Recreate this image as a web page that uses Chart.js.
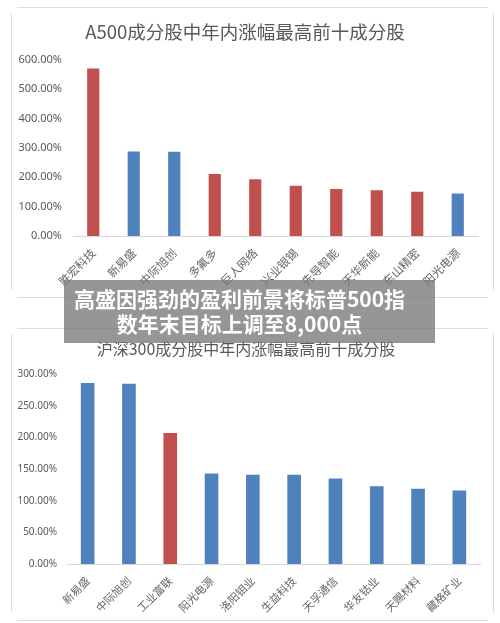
<!DOCTYPE html>
<html>
<head>
<meta charset="utf-8">
<script src="https://cdn.jsdelivr.net/npm/chart.js@4"></script>
<style>
  html, body { margin: 0; padding: 0; background: #fff; }
  body { width: 500px; height: 623px; position: relative; overflow: hidden; }
  .line { position: absolute; background: #dcdcdc; }
  .chart-box { position: absolute; }
  .banner {
    position: absolute; left: 64px; top: 280px; width: 371px; height: 63px;
    background: rgba(120, 120, 120, 0.78);
    color: #fff; font-family: "Noto Sans CJK SC", sans-serif; font-weight: 700;
    font-size: 21px; line-height: 25px; text-align: center;
    box-sizing: border-box; padding: 6px 20px 0 0; white-space: nowrap;
  }
</style>
</head>
<body>
<!-- card edges -->
<div class="line" style="left:17px;top:7px;width:471px;height:1px"></div>
<div class="line" style="left:11px;top:13px;width:1px;height:277px"></div>
<div class="line" style="left:493px;top:13px;width:1px;height:277px"></div>
<div class="line" style="left:17px;top:297px;width:471px;height:1px"></div>
<div class="line" style="left:17px;top:328px;width:471px;height:1px"></div>
<div class="line" style="left:11px;top:334px;width:1px;height:278px"></div>
<div class="line" style="left:493px;top:333px;width:1px;height:280px"></div>
<div class="line" style="left:17px;top:620px;width:471px;height:1px"></div>

<div class="chart-box" style="left:12px;top:13px;width:481px;height:277px">
  <canvas id="a500Chart"></canvas>
</div>
<div class="chart-box" style="left:12px;top:334px;width:481px;height:284px">
  <canvas id="hs300Chart"></canvas>
</div>

<div class="banner">高盛因强劲的盈利前景将标普500指<br>数年末目标上调至8,000点</div>

<script>
// A500 top ten
const a500Names = ['胜宏科技', '新易盛', '中际旭创', '多氟多', '巨人网络', '兴业银锡', '先导智能', '天华新能', '东山精密', '阳光电源'];
const a500Gains = [570, 288, 287, 211, 193, 171, 160, 156, 151, 145];
const a500Ticks = [0, 100, 200, 300, 400, 500, 600];

// CSI 300 top ten
const hs300Names = ['新易盛', '中际旭创', '工业富联', '阳光电源', '洛阳钼业', '生益科技', '天孚通信', '华友钴业', '天赐材料', '藏格矿业'];
const hs300Gains = [286, 285, 207, 143, 141, 141, 135, 123, 119, 116];
const hs300Ticks = [0, 50, 100, 150, 200, 250, 300];

const RED = '#C0504D';
const BLUE = '#4F81BD';
const a500Colors = [RED, BLUE, BLUE, RED, RED, RED, RED, RED, RED, BLUE];
const hs300Colors = [BLUE, BLUE, RED, BLUE, BLUE, BLUE, BLUE, BLUE, BLUE, BLUE];

const textColor = '#595959';

function makeChart(id, title, names, values, ticks, colors, opt) {
  const ctx = document.getElementById(id).getContext('2d');
  return new Chart(ctx, {
    type: 'bar',
    data: {
      labels: names,
      datasets: [{
        data: values,
        backgroundColor: colors,
        barPercentage: opt.bar,
        categoryPercentage: 1
      }]
    },
    options: {
      responsive: true,
      maintainAspectRatio: false,
      animation: false,
      layout: { padding: { left: 0, right: opt.padRight, top: 0, bottom: 0 } },
      plugins: {
        legend: { display: false },
        tooltip: { enabled: false },
        title: {
          display: true,
          text: title,
          color: textColor,
          font: { family: '"Noto Sans CJK SC", sans-serif', size: opt.titleSize, weight: 'normal' },
          padding: { top: opt.titleTop, bottom: opt.titleBottom }
        }
      },
      scales: {
        x: {
          grid: { display: false },
          border: { display: true, color: '#d9d9d9' },
          ticks: {
            color: '#666666',
            maxRotation: 45,
            minRotation: 45,
            autoSkip: false,
            padding: 2,
            font: { family: '"Noto Sans CJK SC", sans-serif', size: opt.xFont }
          },
          afterFit: s => { s.height = opt.xHeight; }
        },
        y: {
          min: ticks[0],
          max: ticks[ticks.length - 1],
          afterBuildTicks: s => { s.ticks = ticks.map(v => ({ value: v })); },
          grid: { display: false, drawTicks: false },
          border: { display: false },
          ticks: {
            color: textColor,
            padding: opt.yPad,
            font: { family: '"Noto Sans", sans-serif', size: opt.yFont },
            callback: v => v.toFixed(2) + '%'
          },
          afterFit: s => { s.width = opt.yWidth; }
        }
      }
    }
  });
}

makeChart('a500Chart', 'A500成分股中年内涨幅最高前十成分股', a500Names, a500Gains, a500Ticks, a500Colors, {
  bar: 0.3, padRight: 15, titleSize: 18.5, titleTop: 8, titleBottom: 16.5,
  xFont: 11.5, xHeight: 54, yPad: 11, yFont: 11, yWidth: 61
});

makeChart('hs300Chart', '沪深300成分股中年内涨幅最高前十成分股', hs300Names, hs300Gains, hs300Ticks, hs300Colors, {
  bar: 0.33, padRight: 13, titleSize: 16, titleTop: 5, titleBottom: 16,
  xFont: 11, xHeight: 54, yPad: 10, yFont: 10, yWidth: 55
});
</script>
</body>
</html>
